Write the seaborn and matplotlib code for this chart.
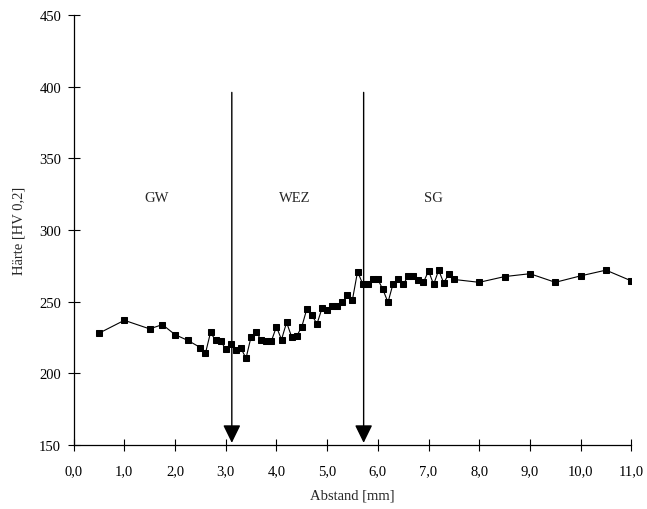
import matplotlib
matplotlib.use("Agg")
import matplotlib.pyplot as plt
import pandas as pd
import seaborn as sns

# Abstand [mm] und Härte [HV 0,2]
abstand = [0.5, 1.0, 1.5, 1.75, 2.0, 2.25, 2.5, 2.6, 2.7, 2.8, 2.9, 3.0, 3.1, 3.2,
           3.3, 3.4, 3.5, 3.6, 3.7, 3.8, 3.9, 4.0, 4.1, 4.2, 4.3, 4.4, 4.5, 4.6,
           4.7, 4.8, 4.9, 5.0, 5.1, 5.2, 5.3, 5.4, 5.5, 5.6, 5.7, 5.8, 5.9, 6.0,
           6.1, 6.2, 6.3, 6.4, 6.5, 6.6, 6.7, 6.8, 6.9, 7.0, 7.1, 7.2, 7.3, 7.4,
           7.5, 8.0, 8.5, 9.0, 9.5, 10.0, 10.5, 11.0]
haerte = [228, 237, 231, 234, 227, 223, 218, 214, 228.5, 223, 222.5, 217, 220.5, 216,
          217.5, 210.5, 225.5, 229, 223, 222.5, 222.5, 232.5, 223.5, 235.5, 225.5, 226, 232.5, 245,
          240.5, 234.5, 245.5, 244, 247, 247, 249.5, 254.5, 251.5, 271, 262.5, 262, 265.5, 265.5,
          258.5, 249.5, 262.5, 266, 262, 268, 268, 265, 263.5, 271.5, 262, 272, 263, 269.5,
          265.5, 263.5, 267.5, 269.5, 263.5, 268, 272, 264.5]

# zone borders (arrows) and zone labels
grenzen = [3.12, 5.72]
zonen = ["GW", "WEZ", "SG"]
zonen_x = [1.63, 4.37, 7.1]
zonen_y = 323

x_ticks = [0, 1, 2, 3, 4, 5, 6, 7, 8, 9, 10, 11]
x_labels = ["0,0", "1,0", "2,0", "3,0", "4,0", "5,0", "6,0", "7,0", "8,0", "9,0", "10,0", "11,0"]
y_ticks = [150, 200, 250, 300, 350, 400, 450]

sns.set_style("white")
plt.rcParams["font.family"] = ["Liberation Serif", "DejaVu Serif"]

df = pd.DataFrame({"Abstand": abstand, "Haerte": haerte})

fig = plt.figure(figsize=(6.47, 5.10), dpi=100)
ax = fig.add_axes([0.1138, 0.1255, 0.862, 0.8431])

sns.lineplot(data=df, x="Abstand", y="Haerte", ax=ax, color="black", linewidth=0.8,
             marker="s", markersize=4.2, markeredgecolor="black", markerfacecolor="black")

for g in grenzen:
    ax.annotate("", xy=(g, 151.5), xytext=(g, 396),
                arrowprops=dict(arrowstyle="-|>,head_width=0.27,head_length=0.55",
                                color="black", lw=1.0, mutation_scale=20,
                                shrinkA=0, shrinkB=0))

for name, zx in zip(zonen, zonen_x):
    ax.text(zx, zonen_y, name, ha="center", va="center", fontsize=10.5)

ax.set_xlim(0, 11)
ax.set_ylim(150, 450)
ax.set_xticks(x_ticks)
ax.set_xticklabels(x_labels)
ax.set_yticks(y_ticks)
ax.tick_params(axis="both", direction="inout", length=8, width=0.8, labelsize=10.5,
               colors="black", bottom=True, left=True)
ax.tick_params(axis="x", pad=10)
ax.tick_params(axis="y", pad=5)

for side in ["top", "right"]:
    ax.spines[side].set_visible(False)
for side in ["left", "bottom"]:
    ax.spines[side].set_color("black")
    ax.spines[side].set_linewidth(0.9)

ax.set_xlabel("Abstand [mm]", fontsize=10.5, labelpad=8)
ax.set_ylabel("Härte [HV 0,2]", fontsize=10.5, labelpad=10)

fig.savefig("out.png", dpi=100, facecolor="white")
